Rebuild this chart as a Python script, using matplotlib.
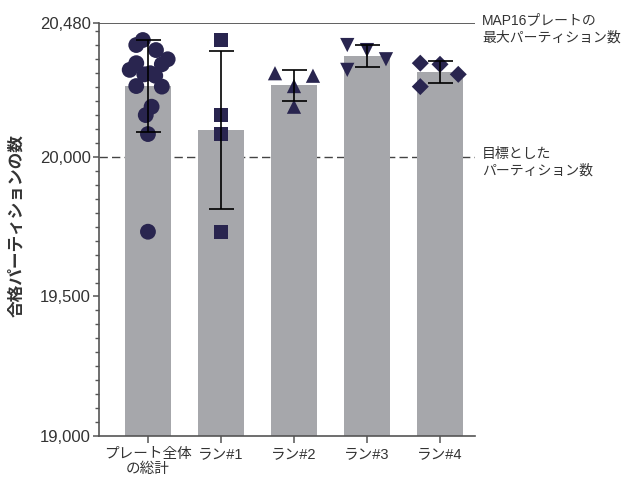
import numpy as np
import matplotlib
matplotlib.use('Agg')
import matplotlib.pyplot as plt
from matplotlib.ticker import FixedLocator, MultipleLocator, FuncFormatter

plt.rcParams['font.family'] = ['Liberation Sans', 'Noto Sans CJK JP', 'DejaVu Sans']

# Valores (particiones válidas por pocillo)
categorias = ['プレート全体\nの総計', 'ラン#1', 'ラン#2', 'ラン#3', 'ラン#4']
run1 = [20419, 20150, 20082, 19732]
run2 = [20300, 20254, 20291, 20180]
run3 = [20401, 20383, 20350, 20312]
run4 = [20336, 20332, 20296, 20252]
maximo = 20480
objetivo = 20000

corridas = [run1, run2, run3, run4]
total = run1 + run2 + run3 + run4
grupos = [total] + corridas

# desplazamiento horizontal de los puntos (jitter)
jit_total = [-0.07, -0.03, 0.0, 0.0,
             0.03, -0.16, 0.1, 0.05,
             -0.16, 0.11, 0.27, -0.25,
             -0.16, 0.19, -0.05, 0.19]
jit_run = [[0, 0, 0, 0],
           [-0.26, 0.0, 0.26, 0.0],
           [-0.27, 0.0, 0.26, -0.27],
           [-0.27, 0.0, 0.25, -0.27]]

medias = [np.mean(g) for g in grupos]
desv = [np.std(g, ddof=1) for g in grupos]

marcadores = ['o', 's', '^', 'v', 'D']
tamanos = [130, 105, 105, 105, 75]
azul = '#29254f'
gris = '#a6a7ab'
texto = '#333333'

fig = plt.figure(figsize=(6.24, 4.8), dpi=100)
ax = fig.add_axes([0.1587, 0.0917, 0.6026, 0.8604])

x = np.arange(len(categorias))
ax.bar(x, np.array(medias) - 19000, bottom=19000, width=0.64, color=gris, zorder=1)

ax.axhline(maximo, color='#444444', lw=1.2, zorder=0)
ax.axhline(objetivo, color='#444444', lw=1.0, ls=(0, (6, 3)), zorder=0)

for i, g in enumerate(grupos):
    if i == 0:
        xs = x[i] + np.array(jit_total)
    else:
        xs = x[i] + np.array(jit_run[i - 1])
    ax.scatter(xs, g, marker=marcadores[i], s=tamanos[i], color=azul,
               edgecolor='none', zorder=3, clip_on=False)
    ax.errorbar(x[i], medias[i], yerr=desv[i], color='black', lw=1.2,
                capsize=9, capthick=1.2, zorder=4)

ax.set_xlim(-0.67, 4.48)
ax.set_ylim(19000, 20480)
ax.yaxis.set_major_locator(FixedLocator([19000, 19500, 20000, 20480]))
ax.yaxis.set_minor_locator(MultipleLocator(50))
ax.yaxis.set_major_formatter(FuncFormatter(lambda v, p: f'{int(v):,}'))
ax.set_xticks(x)
ax.set_xticklabels(categorias, fontsize=10.5, color=texto, linespacing=1.05)

for s in ['top', 'right']:
    ax.spines[s].set_visible(False)
for s in ['left', 'bottom']:
    ax.spines[s].set_color('#555555')
    ax.spines[s].set_linewidth(1.2)
ax.tick_params(axis='y', which='major', length=4, width=1.1, color='#555555',
               labelsize=12, labelcolor=texto, pad=2)
ax.tick_params(axis='y', which='minor', length=3, width=1.0, color='#555555')
ax.tick_params(axis='x', length=5, width=1.1, color='#555555', pad=3)

ax.set_ylabel('合格パーティションの数', fontsize=12, fontweight='bold', color=texto)
ax.yaxis.set_label_coords(-0.2, 0.51)

fig.text(482 / 624, 1 - 29 / 480, 'MAP16プレートの\n最大パーティション数', fontsize=10,
         color=texto, va='center', ha='left', linespacing=1.35)
fig.text(482 / 624, 1 - 162 / 480, '目標とした\nパーティション数', fontsize=10,
         color=texto, va='center', ha='left', linespacing=1.2)

fig.savefig('out.png', dpi=100)
